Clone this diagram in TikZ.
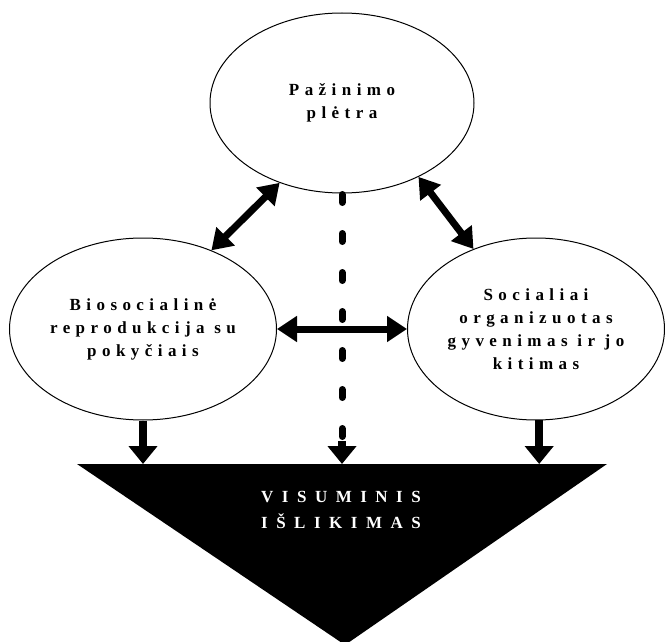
\documentclass[tikz,border=0pt]{standalone}
\usepackage{fontspec}
\setmainfont{Liberation Serif}
\newfontfamily\spacedserif{Liberation Serif}[LetterSpace=32]
\usetikzlibrary{shapes.geometric,arrows.meta,positioning}
\tikzstyle{oval} = [ellipse, draw=black, line width=1pt, inner sep=0pt, align=center, font=\spacedserif\bfseries\fontsize{17}{23}\selectfont]
\tikzstyle{both} = [{Triangle[width=25pt,length=20pt]}-{Triangle[width=25pt,length=20pt]}, line width=7pt]
\tikzstyle{down} = [-{Triangle[width=28pt,length=18pt]}, line width=8pt]

\begin{document}
\begin{tikzpicture}[x=1pt,y=-1pt]
  \useasboundingbox (0,0) rectangle (665,642);
  % ellipses
  \node (Knowledge) [oval, minimum width=264pt, minimum height=180pt] at (342,103) {Pažinimo\\plėtra};
  \node (Bio) [oval, minimum width=267pt, minimum height=182pt] at (143,329) {Biosocialinė\\reprodukcija su\\pokyčiais};
  \node (Social) [oval, minimum width=257pt, minimum height=182pt] at (536,329) {Socialiai\\organizuotas\\gyvenimas ir jo\\kitimas};
  % survival triangle
  \coordinate (TL) at (77,464);
  \coordinate (TR) at (607,464);
  \coordinate (Apex) at (345,645);
  \fill[black] (TL) -- (TR) -- (Apex) -- cycle;
  \node (Survival) [text=white, align=center, font=\spacedserif\bfseries\fontsize{17}{26}\selectfont\addfontfeature{LetterSpace=50}] at (341,510) {VISUMINIS\\IŠLIKIMAS};

  \path[both]
    (Bio.49) edge (Knowledge.232)
    (Knowledge.316) edge (Social.128)
    (Bio.east) edge (Social.west);
  \draw[down] (Bio.south) -- (Bio.south |- TL);
  \draw[down] (Social.272) -- (Social.272 |- TL);
  \coordinate (MidLevel) at (0,437);
  \coordinate (MidEnd) at (Knowledge.south |- MidLevel);
  \draw[line width=7pt, line cap=round, dash pattern=on 8pt off 31pt] ([yshift=-1pt]Knowledge.south) -- (MidEnd);
  \draw[down] ([yshift=-4pt]MidEnd) -- (MidEnd |- TL);
\end{tikzpicture}
\end{document}
